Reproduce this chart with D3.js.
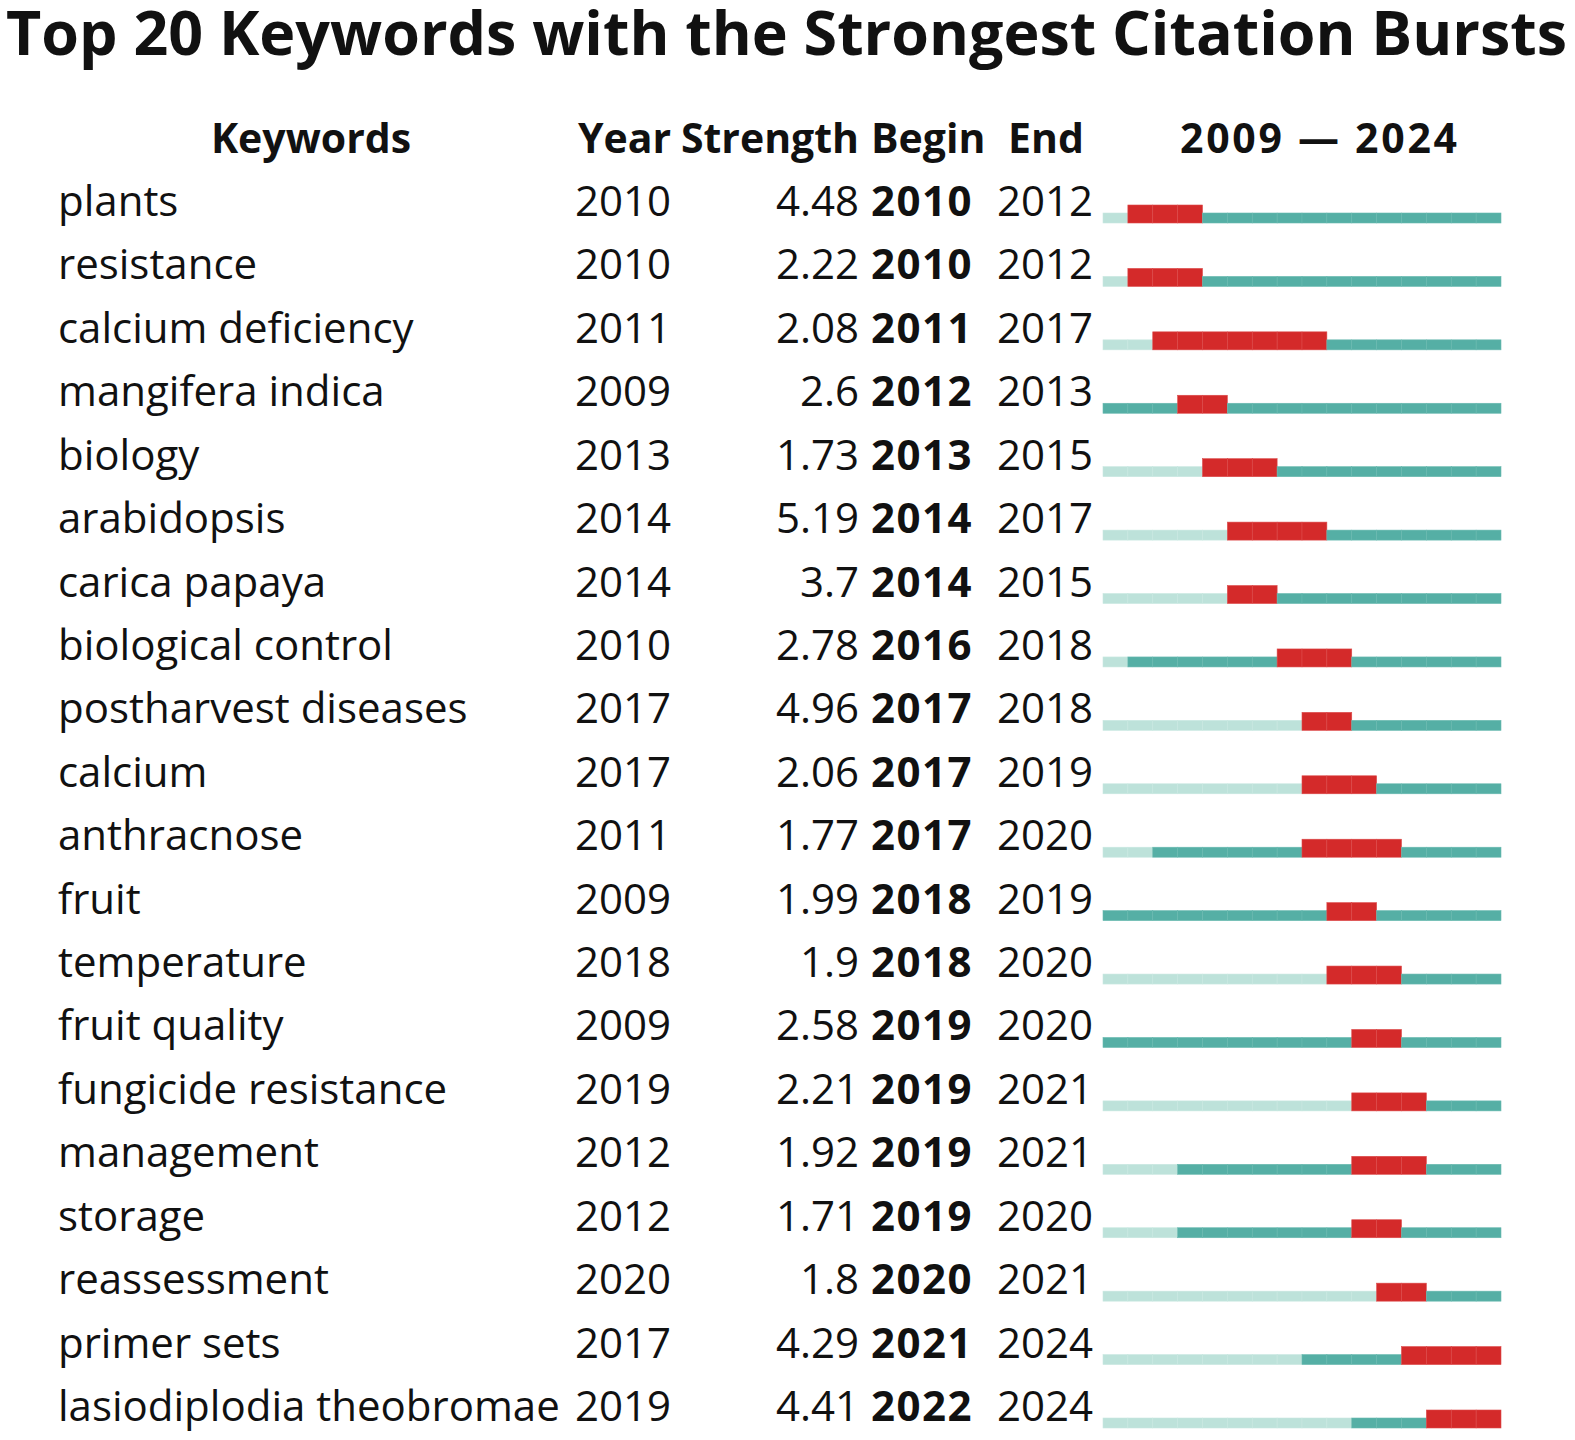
<!DOCTYPE html>
<html>
<head>
<meta charset="utf-8">
<script src="https://cdn.jsdelivr.net/npm/d3@7"></script>
<style>
  html, body { margin: 0; padding: 0; background: #fff; overflow: hidden; }
  svg { display: block; }
  text { font-family: "Open Sans", "Noto Sans", sans-serif; fill: #111; }
</style>
</head>
<body>
<script>
const w = 1575;
const h = 1440;

// burst data
const keywords = [
  "plants", "resistance", "calcium deficiency", "mangifera indica", "biology",
  "arabidopsis", "carica papaya", "biological control", "postharvest diseases", "calcium",
  "anthracnose", "fruit", "temperature", "fruit quality", "fungicide resistance",
  "management", "storage", "reassessment", "primer sets", "lasiodiplodia theobromae"
];
const years = [2010, 2010, 2011, 2009, 2013, 2014, 2014, 2010, 2017, 2017,
  2011, 2009, 2018, 2009, 2019, 2012, 2012, 2020, 2017, 2019];
const strengths = ["4.48", "2.22", "2.08", "2.6", "1.73", "5.19", "3.7", "2.78", "4.96", "2.06",
  "1.77", "1.99", "1.9", "2.58", "2.21", "1.92", "1.71", "1.8", "4.29", "4.41"];
const begins = [2010, 2010, 2011, 2012, 2013, 2014, 2014, 2016, 2017, 2017,
  2017, 2018, 2018, 2019, 2019, 2019, 2019, 2020, 2021, 2022];
const ends = [2012, 2012, 2017, 2013, 2015, 2017, 2015, 2018, 2018, 2019,
  2020, 2019, 2020, 2020, 2021, 2021, 2020, 2021, 2024, 2024];
const firstYear = 2009;
const lastYear = 2024;
const headers = ["Keywords", "Year", "Strength", "Begin", "End"];

const rows = keywords.map(function (k, i) {
  return { kw: k, year: years[i], strength: strengths[i], begin: begins[i], end: ends[i] };
});

const yScale = d3.scalePoint()
  .domain(d3.range(rows.length))
  .range([216, 1421]);

const xScale = d3.scaleLinear()
  .domain([firstYear, lastYear + 1])
  .range([1103, 1501]);

const svg = d3.select("body").append("svg").attr("width", w).attr("height", h);

// title
svg.append("text")
  .attr("x", 6)
  .attr("y", 55)
  .attr("font-size", 60)
  .attr("font-weight", "bold")
  .attr("textLength", 1561)
  .attr("lengthAdjust", "spacingAndGlyphs")
  .text("Top 20 Keywords with the Strongest Citation Bursts");

// header
const headY = 153;
const hdr = svg.append("g").attr("font-size", 41).attr("font-weight", "bold");
hdr.append("text").attr("x", 311).attr("y", headY).attr("text-anchor", "middle").text(headers[0]);
hdr.append("text").attr("x", 578).attr("y", headY).text(headers[1]);
hdr.append("text").attr("x", 859).attr("y", headY).attr("text-anchor", "end").text(headers[2]);
hdr.append("text").attr("x", 871).attr("y", headY).text(headers[3]);
hdr.append("text").attr("x", 1008).attr("y", headY).text(headers[4]);
hdr.append("text").attr("x", 1180).attr("y", headY)
  .attr("textLength", 277)
  .attr("lengthAdjust", "spacing")
  .text(firstYear + " \u2014 " + lastYear);

// rows of text
const row = svg.selectAll("g.row")
  .data(rows)
  .enter()
  .append("g")
  .attr("class", "row")
  .attr("font-size", 42)
  .attr("transform", function (d, i) { return "translate(0," + yScale(i) + ")"; });

row.append("text").attr("x", 58).text(function (d) { return d.kw; });
row.append("text").attr("x", 575).text(function (d) { return d.year; });
row.append("text").attr("x", 859).attr("text-anchor", "end").text(function (d) { return d.strength; });
row.append("text").attr("x", 871).attr("font-weight", "bold")
  .attr("letter-spacing", 1.5)
  .text(function (d) { return d.begin; });
row.append("text").attr("x", 997).text(function (d) { return d.end; });

// timeline cells
const cellYears = d3.range(firstYear, lastYear + 1);
const cellW = xScale(firstYear + 1) - xScale(firstYear);

function inBurst(c) { return c.y >= c.r.begin && c.y <= c.r.end; }

row.selectAll("rect")
  .data(function (d) {
    return cellYears.map(function (y) { return { y: y, r: d }; });
  })
  .enter()
  .append("rect")
  .attr("x", function (c) { return xScale(c.y); })
  .attr("width", cellW)
  .attr("y", function (c) { return inBurst(c) ? -11 : -3; })
  .attr("height", function (c) { return inBurst(c) ? 18 : 10; })
  .attr("fill", function (c) {
    if (inBurst(c)) return "#d42a2a";
    if (c.y >= c.r.year) return "#55afa5";
    return "#bde2da";
  })
  .attr("stroke", function (c) {
    if (inBurst(c)) return "#dc4a4a";
    if (c.y >= c.r.year) return "#69b9b0";
    return "#c9e8e1";
  })
  .attr("stroke-width", 0.6);
</script>
</body>
</html>
